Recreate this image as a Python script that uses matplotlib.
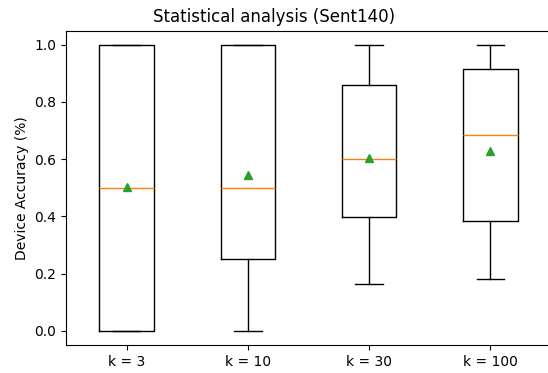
import matplotlib
matplotlib.use("Agg")
import matplotlib.pyplot as plt

labels = ["k = 3", "k = 10", "k = 30", "k = 100"]
whislo = [0.0, 0.0, 0.165, 0.182]
q1 = [0.0, 0.251, 0.398, 0.383]
med = [0.5, 0.5, 0.601, 0.686]
q3 = [1.0, 1.0, 0.858, 0.914]
whishi = [1.0, 1.0, 1.0, 1.0]
means = [0.504, 0.544, 0.605, 0.630]

stats = []
for i, lab in enumerate(labels):
    stats.append(dict(label=lab, whislo=whislo[i], q1=q1[i], med=med[i],
                      q3=q3[i], whishi=whishi[i], mean=means[i], fliers=[]))

left_px, right_px = 66, 551
fig = plt.figure(figsize=(5.48, 3.73), dpi=100)
ax = fig.add_axes([left_px / 548, 1 - 345 / 373, (right_px - left_px) / 548, (345 - 30.5) / 373])
ax.bxp(stats, showmeans=True)
ax.set_ylim(-0.0496, 1.0496)
ax.set_xlim(0.5, 4.5)
ax.spines["right"].set_visible(False)
ax.set_ylabel("Device Accuracy (%)")
ax.set_title("Statistical analysis (Sent140)", x=(274 - left_px) / (right_px - left_px))
fig.savefig("out.png", dpi=100)
